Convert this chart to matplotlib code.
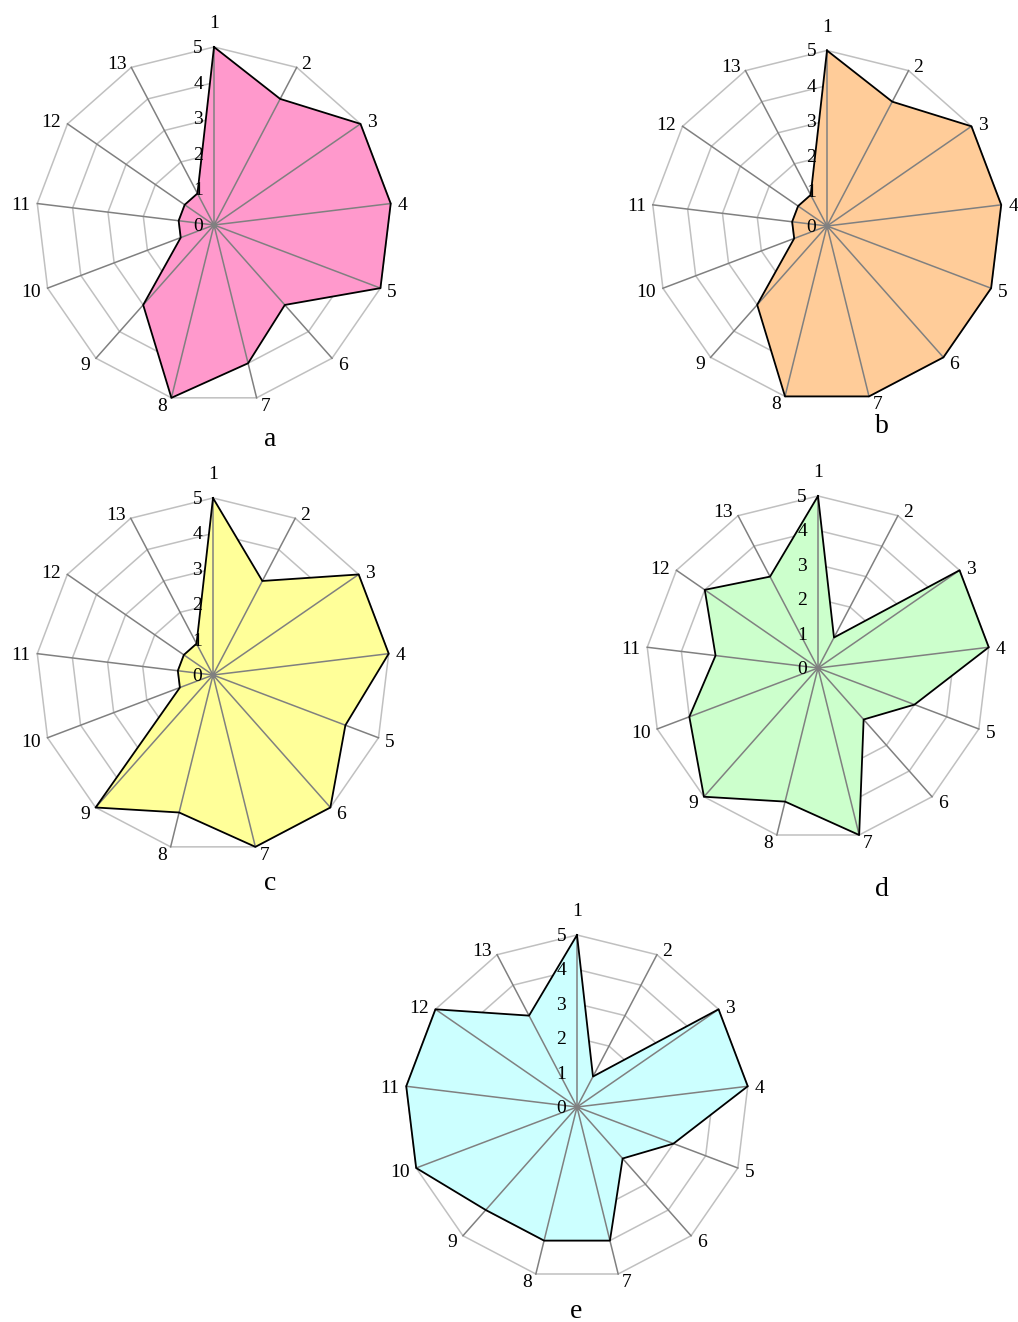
import numpy as np
import matplotlib.pyplot as plt

plt.rcParams['font.family'] = ['Liberation Serif', 'DejaVu Serif']

# spoke names, ring levels and the five profiles (a-e)
spokes = [str(i) for i in range(1, 14)]
rings = [0, 1, 2, 3, 4, 5]

vals_a = [5, 4, 5, 5, 5, 3, 4, 5, 3, 1, 1, 1, 1]
vals_b = [5, 4, 5, 5, 5, 5, 5, 5, 3, 1, 1, 1, 1]
vals_c = [5, 3, 5, 5, 4, 5, 5, 4, 5, 1, 1, 1, 1]
vals_d = [5, 1, 5, 5, 3, 2, 5, 4, 5, 4, 3, 4, 3]
vals_e = [5, 1, 5, 5, 3, 2, 4, 4, 4, 5, 5, 5, 3]

panels = ['a', 'b', 'c', 'd', 'e']
colors = ['#ff99cc', '#ffcc99', '#ffff99', '#ccffcc', '#ccffff']

W, H = 1018, 1322
# centre x, centre y, radius in pixels (from the top left)
boxes = [(214, 225, 178), (827, 226, 175.5), (213, 675, 177),
         (818, 668, 172), (577, 1107, 172)]
# where the panel letters go (pixels, baseline)
letter_pos = [(270, 446), (882, 433), (270, 890), (882, 896), (576, 1318)]

PT = 0.72  # points per pixel at 100 dpi
FS = 14


def radar(ax, vals, color):
    n = len(spokes)
    th = np.arange(n) * 2 * np.pi / n
    thc = np.append(th, th[0])
    ax.set_theta_zero_location('N')
    ax.set_theta_direction(-1)
    ax.set_ylim(0, 5)
    ax.set_axis_off()

    for r in rings[1:]:
        ax.plot(thc, [r] * (n + 1), color='#c0c0c0', lw=1.1, zorder=1,
                clip_on=False)
    v = np.append(vals, vals[0])
    ax.fill(thc, v, color=color, lw=0, zorder=2, clip_on=False)
    for t in th:
        ax.plot([t, t], [0, 5], color='#808080', lw=1.1, zorder=3,
                clip_on=False)
    ax.plot(thc, v, color='black', lw=1.3, zorder=5, clip_on=False)
    ax.plot([0], [0], 'o', color='#808080', ms=4, mec='none', zorder=6,
            clip_on=False)

    # ring values along the first spoke
    for r in rings:
        ax.annotate(str(r), (0, r), xytext=(-11 * PT, -6 * PT),
                    textcoords='offset points', ha='right', va='baseline',
                    fontsize=FS, zorder=4, annotation_clip=False)

    # spoke names just outside the tips
    for t, name in zip(th, spokes):
        s, c = np.sin(t), np.cos(t)
        if abs(s) < 0.01:
            ax.annotate(name, (t, 5), xytext=(0, 19 * PT),
                        textcoords='offset points', ha='center',
                        va='baseline', fontsize=FS, annotation_clip=False)
            continue
        dx = np.sign(s) * (3 + 4 * abs(s))
        dy = -6 * c + 1  # downward, pixels
        ax.annotate(name, (t, 5), xytext=(dx * PT, -(dy + 6) * PT),
                    textcoords='offset points',
                    ha='left' if s > 0 else 'right', va='baseline',
                    fontsize=FS, annotation_clip=False)


fig = plt.figure(figsize=(W / 100, H / 100), dpi=100)
data = [vals_a, vals_b, vals_c, vals_d, vals_e]
for vals, color, (cx, cy, R), name, (lx, ly) in zip(data, colors, boxes,
                                                    panels, letter_pos):
    ax = fig.add_axes([(cx - R) / W, (H - cy - R) / H, 2 * R / W, 2 * R / H],
                      projection='polar')
    radar(ax, vals, color)
    fig.text(lx / W, 1 - ly / H, name, ha='center', va='baseline',
             fontsize=20)

fig.savefig('out.png', dpi=100)
